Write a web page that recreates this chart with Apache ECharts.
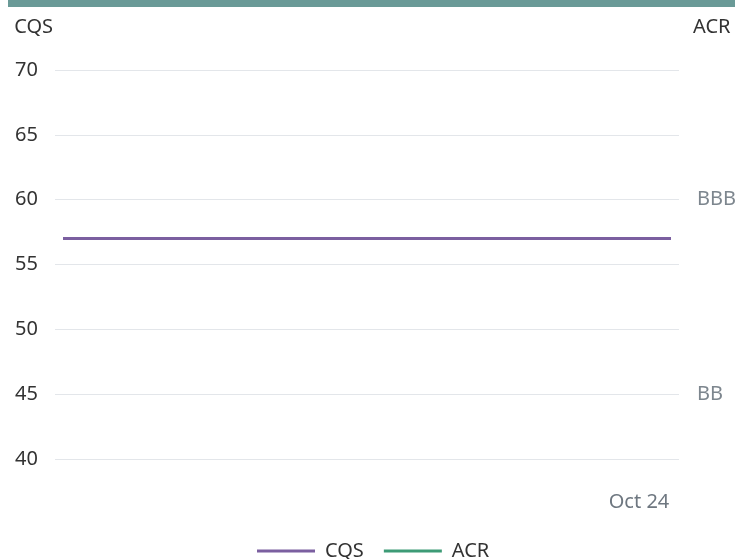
<!DOCTYPE html>
<html>
<head>
<meta charset="utf-8">
<script src="https://cdn.jsdelivr.net/npm/echarts@6/dist/echarts.min.js"></script>
<style>
  html, body { margin: 0; padding: 0; background: #fff; }
  #chart { width: 735px; height: 559px; }
</style>
</head>
<body>
<div id="chart"></div>
<script>
  // 39 daily points, only Oct 24 is labelled
  var dates = [
    'Sep 18', 'Sep 19', 'Sep 20', 'Sep 21', 'Sep 22', 'Sep 23', 'Sep 24', 'Sep 25',
    'Sep 26', 'Sep 27', 'Sep 28', 'Sep 29', 'Sep 30', 'Oct 1', 'Oct 2', 'Oct 3',
    'Oct 4', 'Oct 5', 'Oct 6', 'Oct 7', 'Oct 8', 'Oct 9', 'Oct 10', 'Oct 11',
    'Oct 12', 'Oct 13', 'Oct 14', 'Oct 15', 'Oct 16', 'Oct 17', 'Oct 18', 'Oct 19',
    'Oct 20', 'Oct 21', 'Oct 22', 'Oct 23', 'Oct 24', 'Oct 25', 'Oct 26'
  ];
  var cqs = [
    57, 57, 57, 57, 57, 57, 57, 57, 57, 57, 57, 57, 57, 57, 57, 57, 57, 57, 57, 57,
    57, 57, 57, 57, 57, 57, 57, 57, 57, 57, 57, 57, 57, 57, 57, 57, 57, 57, 57
  ];
  var acr = [];
  var shownDates = ['Oct 24'];
  var ratingLabels = { 60: 'BBB', 45: 'BB' };

  var chart = echarts.init(document.getElementById('chart'));
  var font = 'Noto Sans';
  chart.setOption({
    animation: false,
    textStyle: { fontFamily: font },
    graphic: [{
      type: 'rect',
      shape: { x: 8, y: 0, width: 727, height: 7 },
      style: { fill: '#6a9a97' }
    }],
    grid: { left: 55, right: 56, top: 70, bottom: 100, outerBoundsMode: 'none' },
    legend: {
      left: 252,
      top: 536,
      icon: 'rect',
      itemWidth: 58,
      itemHeight: 3,
      itemGap: 20,
      textStyle: { fontSize: 20, color: '#333', padding: [0, 0, 0, 5] },
      data: ['CQS', 'ACR']
    },
    xAxis: {
      type: 'category',
      data: dates,
      boundaryGap: true,
      axisLine: { show: false },
      axisTick: { show: false },
      axisLabel: {
        margin: 33,
        fontSize: 20,
        color: '#6e7780',
        interval: function (i, v) { return shownDates.indexOf(v) >= 0; }
      }
    },
    yAxis: [{
      type: 'value',
      min: 40,
      max: 70,
      interval: 5,
      name: 'CQS',
      nameGap: 33,
      nameTextStyle: { fontSize: 20, color: '#333', align: 'right', padding: [0, 2, 0, 0] },
      axisLabel: { fontSize: 20, color: '#333', margin: 17 },
      splitLine: { lineStyle: { color: '#e3e6ea' } }
    }, {
      type: 'value',
      min: 40,
      max: 70,
      interval: 5,
      name: 'ACR',
      nameGap: 33,
      nameTextStyle: { fontSize: 20, color: '#333', align: 'left', padding: [0, 0, 0, 14] },
      axisLabel: {
        fontSize: 20,
        color: '#7d868e',
        margin: 18,
        formatter: function (v) { return ratingLabels[v] || ''; }
      },
      splitLine: { show: false }
    }],
    series: [{
      name: 'CQS',
      type: 'line',
      data: cqs,
      symbol: 'none',
      lineStyle: { width: 3, color: '#7b5fa0' },
      itemStyle: { color: '#7b5fa0' }
    }, {
      name: 'ACR',
      type: 'line',
      yAxisIndex: 1,
      data: acr,
      symbol: 'none',
      lineStyle: { width: 3, color: '#3d9b76' },
      itemStyle: { color: '#3d9b76' }
    }]
  });
</script>
</body>
</html>
